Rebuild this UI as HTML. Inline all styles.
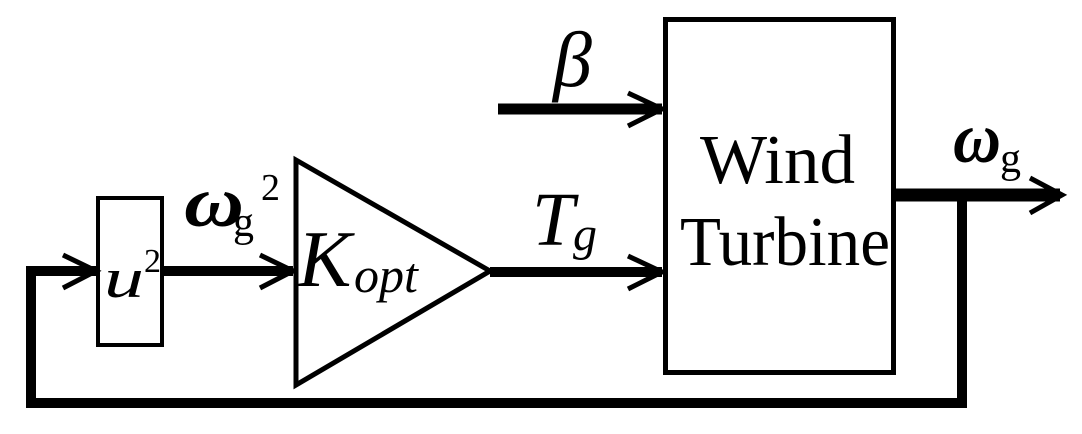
<!DOCTYPE html>
<html><head><meta charset="utf-8"><style>html,body{margin:0;padding:0;background:#fff;}svg{display:block}</style></head>
<body>
<svg width="1082" height="434" viewBox="0 0 1082 434" xmlns="http://www.w3.org/2000/svg" font-family="Liberation Serif, serif">
<g fill="none" stroke="#000">
<rect x="98" y="198" width="64" height="147" stroke-width="4"/>
<polygon points="296,160 296,385 490,271" stroke-width="5"/>
<rect x="665.5" y="19.5" width="228" height="353" stroke-width="5"/>
<path d="M31,271 V403 H962 V195" stroke-width="10"/>
<path d="M26,271 H96" stroke-width="10"/>
<path d="M162,271 H293" stroke-width="10"/>
<path d="M490,272 H662" stroke-width="10"/>
<path d="M498,109 H662" stroke-width="11"/>
<path d="M895,195 H1060" stroke-width="13"/>
<g stroke-width="5">
<path d="M63,255 L96,271 L63,288"/>
<path d="M260,255 L293,271 L260,288"/>
<path d="M628,256 L662,272 L628,289"/>
<path d="M628,93 L662,109 L628,126"/>
<path d="M1030,178 L1062,195 L1030,213"/>
</g>
</g>
<g fill="#000">
<text x="104" y="297" font-size="56" font-style="italic" textLength="40" lengthAdjust="spacingAndGlyphs">u</text>
<text x="144" y="272" font-size="34">2</text>
<text x="184" y="226" font-size="72" font-style="italic" font-weight="bold" textLength="60" lengthAdjust="spacingAndGlyphs">ω</text>
<text x="233" y="236" font-size="42">g</text>
<text x="261" y="200" font-size="38">2</text>
<text x="298" y="286" font-size="80" font-style="italic">K</text>
<text x="354" y="292" font-size="50" font-style="italic">opt</text>
<text x="553" y="86" font-size="78" font-style="italic">β</text>
<text x="532" y="245" font-size="76" font-style="italic">T</text>
<text x="573" y="250" font-size="48" font-style="italic">g</text>
<text x="700" y="183" font-size="70" textLength="155" lengthAdjust="spacingAndGlyphs">Wind</text>
<text x="680" y="265" font-size="70" textLength="210" lengthAdjust="spacingAndGlyphs">Turbine</text>
<text x="953" y="162" font-size="72" font-style="italic" font-weight="bold" textLength="48" lengthAdjust="spacingAndGlyphs">ω</text>
<text x="1000" y="172" font-size="42">g</text>
</g>
</svg>
</body></html>
